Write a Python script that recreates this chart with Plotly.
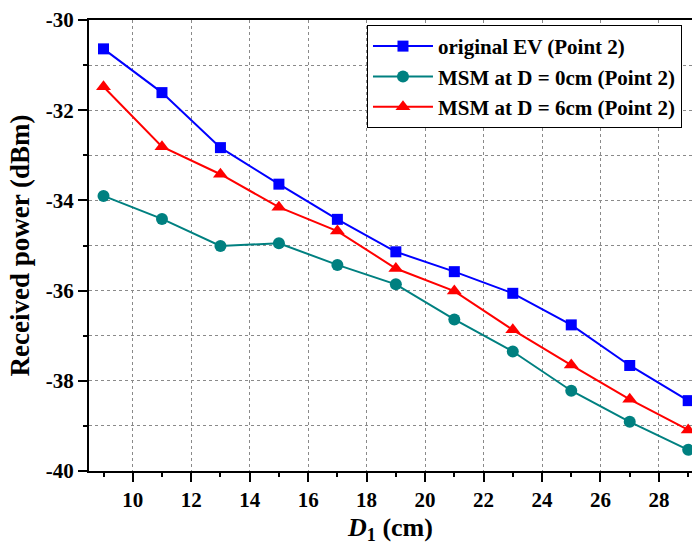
import plotly.graph_objects as go

x_vals = [9, 11, 13, 15, 17, 19, 21, 23, 25, 27, 29]
original_ev = [-30.64, -31.61, -32.83, -33.64, -34.42, -35.14, -35.58, -36.06, -36.76, -37.66, -38.44]
msm_d0 = [-33.90, -34.41, -35.01, -34.95, -35.43, -35.86, -36.64, -37.35, -38.22, -38.91, -39.53]
msm_d6 = [-31.48, -32.81, -33.42, -34.15, -34.68, -35.51, -36.01, -36.87, -37.65, -38.41, -39.09]

x_ticks = [10, 12, 14, 16, 18, 20, 22, 24, 26, 28]
y_ticks = [-40, -38, -36, -34, -32, -30]
y_tick_labels = ["-40", "-38", "-36", "-34", "-32", "-30"]

names = ["original EV (Point 2)", "MSM at D = 0cm (Point 2)", "MSM at D = 6cm (Point 2)"]
colors = ["#0000FF", "#008080", "#FF0000"]
symbols = ["square", "circle", "triangle-up"]
sizes = [11, 12, 13]
series = [original_ev, msm_d0, msm_d6]

FONT = "Liberation Serif"

fig = go.Figure()
for name, ys, c, s, sz in zip(names, series, colors, symbols, sizes):
    fig.add_trace(go.Scatter(
        x=x_vals, y=ys, name=name, mode="lines+markers",
        line=dict(color=c, width=2),
        marker=dict(symbol=s, size=sz, color=c),
    ))

fig.update_layout(
    width=692, height=545,
    margin=dict(l=89, r=0, t=20, b=74),
    paper_bgcolor="white", plot_bgcolor="white",
    font=dict(family=FONT, size=20, color="black"),
    legend=dict(
        x=0.461, y=0.989, xanchor="left", yanchor="top",
        bgcolor="white", bordercolor="black", borderwidth=1,
        font=dict(family=FONT, size=21, color="black", weight="bold"),
        itemwidth=60, tracegroupgap=0,
    ),
    showlegend=True,
)

fig.update_xaxes(
    range=[8.504, 29.13],
    tickvals=x_ticks, ticktext=["<b>%d</b>" % v for v in x_ticks],
    showline=True, linecolor="black", linewidth=2, mirror=True,
    ticks="outside", ticklen=9, tickwidth=2, tickcolor="black",
    tickfont=dict(family=FONT, size=21, color="black", weight="bold"),
    showgrid=True, gridcolor="#8a8a8a", gridwidth=1, griddash="dot",
    zeroline=False,
    minor=dict(dtick=1, tick0=9, ticks="outside", ticklen=4, tickwidth=2,
               tickcolor="black", showgrid=False),
    title=dict(text="<b><i>D</i><sub>1</sub> (cm)</b>",
               font=dict(family=FONT, size=26, color="black"),
               standoff=7),
)

fig.update_yaxes(
    range=[-40, -30],
    tickvals=y_ticks, ticktext=["<b>%s</b>" % t for t in y_tick_labels],
    showline=True, linecolor="black", linewidth=2,
    ticks="outside", ticklen=9, tickwidth=2, tickcolor="black",
    tickfont=dict(family=FONT, size=21, color="black", weight="bold"),
    showgrid=False, zeroline=False,
    minor=dict(dtick=1, tick0=-39, ticks="outside", ticklen=4, tickwidth=2,
               tickcolor="black", showgrid=True, gridcolor="#8a8a8a",
               gridwidth=1, griddash="dot"),
    title=dict(text="<b>Received power (dBm)</b>",
               font=dict(family=FONT, size=27, color="black"),
               standoff=8),
)

fig.write_html("out.html")
